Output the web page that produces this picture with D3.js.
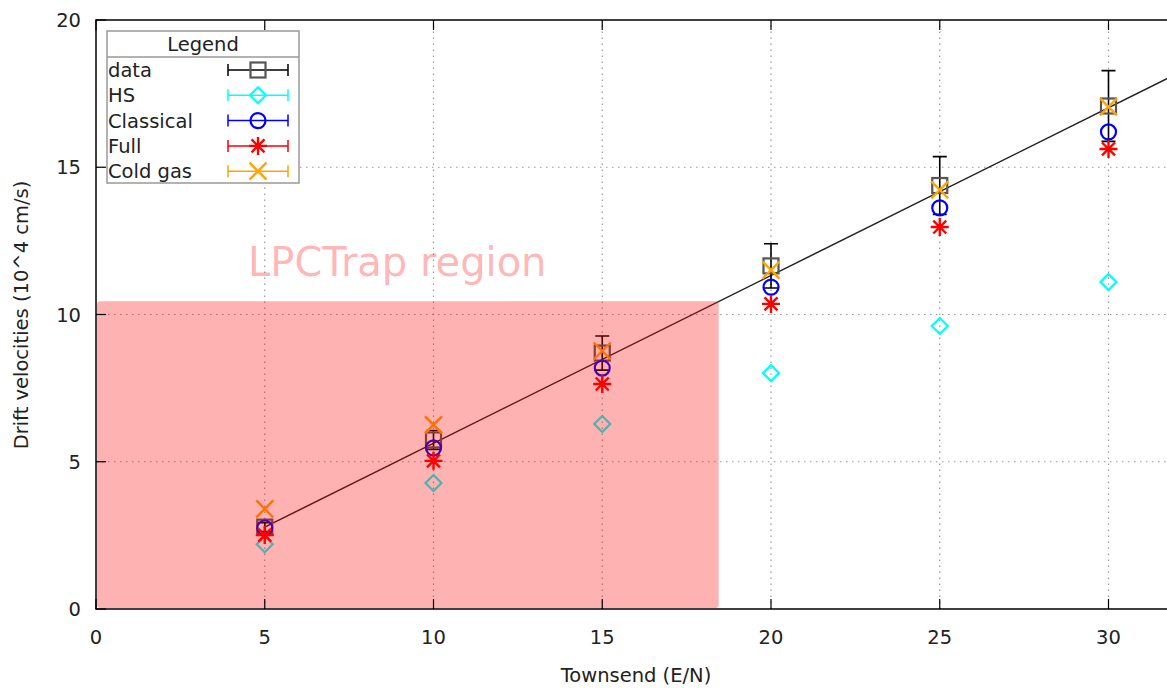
<!DOCTYPE html>
<html><head><meta charset="utf-8">
<script src="https://cdn.jsdelivr.net/npm/d3@7"></script>
<style>body{margin:0;background:#fff}svg{display:block}text{font-family:"DejaVu Sans",sans-serif}</style>
</head><body><svg id="c" width="1167" height="688"></svg>
<script>
const xTicks = [0,5,10,15,20,25,30];
const yTicks = [0,5,10,15,20];
const townsend = [5,10,15,20,25,30];
const dataVals = [2.78,5.74,8.69,11.65,14.38,17.08];
const dataErr  = [0.15,0.32,0.58,0.75,0.98,1.2];
const hsVals   = [2.2,4.28,6.28,8.01,9.61,11.1];
const classicalVals = [2.75,5.47,8.18,10.93,13.62,16.2];
const fullVals = [2.51,5.03,7.64,10.36,12.97,15.62];
const coldVals = [3.4,6.25,8.76,11.51,14.23,17.05];
const fitX = [5,32];
const fitY = [2.78,18.16];
const regionX = [0,18.45];
const regionY = [0,10.45];
const seriesNames = ["data","HS","Classical","Full","Cold gas"];
const seriesColors = ["#555555","#00ffff","#0000ff","#ff0000","#ffa500"];
const seriesShapes = ["square","diamond","circle","star","cross"];

const svg = d3.select("#c");
const L=96, T=20, B=609;
const x = d3.scaleLinear().domain([0,32]).range([L, L+32*33.75]);
const y = d3.scaleLinear().domain([0,20]).range([B, T]);
const FS = 19.5;

// grid
const g = svg.append("g");
xTicks.filter(d=>d>0).forEach(d=>g.append("line").attr("x1",x(d)).attr("x2",x(d)).attr("y1",B).attr("y2",T)
  .attr("stroke","#999").attr("stroke-width",1.2).attr("stroke-dasharray","1.5,4.5"));
yTicks.filter(d=>d>0&&d<20).forEach(d=>g.append("line").attr("x1",L).attr("x2",1167).attr("y1",y(d)).attr("y2",y(d))
  .attr("stroke","#999").attr("stroke-width",1.2).attr("stroke-dasharray","1.5,4.5"));

// fit line
svg.append("path").attr("d", d3.line()(fitX.map((v,i)=>[x(v),y(fitY[i])])))
  .attr("stroke","#222").attr("stroke-width",1.5).attr("fill","none");

function marker(sel, shape, color, cx, cy){
  const s=7.5;
  if(shape==="square") sel.append("rect").attr("x",cx-s).attr("y",cy-s).attr("width",2*s).attr("height",2*s).attr("fill","none").attr("stroke",color).attr("stroke-width",2.2);
  else if(shape==="diamond") sel.append("path").attr("d",`M${cx},${cy-s-0.5}L${cx+s+0.5},${cy}L${cx},${cy+s+0.5}L${cx-s-0.5},${cy}Z`).attr("fill","none").attr("stroke",color).attr("stroke-width",2.2);
  else if(shape==="circle") sel.append("circle").attr("cx",cx).attr("cy",cy).attr("r",s).attr("fill","none").attr("stroke",color).attr("stroke-width",2.2);
  else if(shape==="star"){ const r=9; let d=`M${cx-r},${cy}L${cx+r},${cy}M${cx},${cy-r}L${cx},${cy+r}M${cx-r*0.72},${cy-r*0.72}L${cx+r*0.72},${cy+r*0.72}M${cx-r*0.72},${cy+r*0.72}L${cx+r*0.72},${cy-r*0.72}`;
    sel.append("path").attr("d",d).attr("stroke",color).attr("stroke-width",2.4);}
  else if(shape==="cross"){ const r=8.5; let d=`M${cx-r},${cy-r}L${cx+r},${cy+r}M${cx-r},${cy+r}L${cx+r},${cy-r}`;
    sel.append("path").attr("d",d).attr("stroke",color).attr("stroke-width",2.4);}
}
function errbar(sel,color,cx,y1,y2){
  sel.append("path").attr("d",`M${cx},${y1}L${cx},${y2}M${cx-7},${y1}L${cx+7},${y1}M${cx-7},${y2}L${cx+7},${y2}`).attr("stroke",color).attr("stroke-width",1.6).attr("fill","none");
}
const allVals=[dataVals,hsVals,classicalVals,fullVals,coldVals];
const mg = svg.append("g");
townsend.forEach((t,i)=>errbar(mg,"#000",x(t),y(dataVals[i]+dataErr[i]),y(dataVals[i]-dataErr[i])));
[0,1,2,3,4].forEach(k=>{
  townsend.forEach((t,i)=>marker(mg,seriesShapes[k],seriesColors[k],x(t),y(allVals[k][i])));
});

// region
svg.append("rect").attr("x",x(regionX[0])+1).attr("y",y(regionY[1])).attr("width",x(regionX[1])-x(regionX[0])-1)
  .attr("height",y(regionY[0])-y(regionY[1])-1).attr("rx",3).attr("fill","rgba(255,0,0,0.3)");
svg.append("text").attr("x",248).attr("y",276).attr("font-size",40).attr("fill","rgba(255,0,0,0.3)").text("LPCTrap region");

// axes frame
svg.append("path").attr("d",`M${1167},${T}L${L},${T}L${L},${B}L${1167},${B}`).attr("fill","none").attr("stroke","#000").attr("stroke-width",1.5);
xTicks.forEach(d=>{
  svg.append("line").attr("x1",x(d)).attr("x2",x(d)).attr("y1",B).attr("y2",B-10).attr("stroke","#000").attr("stroke-width",1.2);
  svg.append("line").attr("x1",x(d)).attr("x2",x(d)).attr("y1",T).attr("y2",T+10).attr("stroke","#000").attr("stroke-width",1.2);
  svg.append("text").attr("x",x(d)).attr("y",B+35).attr("text-anchor","middle").attr("font-size",FS).attr("fill","#222").text(d);
});
yTicks.forEach(d=>{
  svg.append("line").attr("x1",L).attr("x2",L+10).attr("y1",y(d)).attr("y2",y(d)).attr("stroke","#000").attr("stroke-width",1.2);
  svg.append("text").attr("x",L-15).attr("y",y(d)+7).attr("text-anchor","end").attr("font-size",FS).attr("fill","#222").text(d);
});
svg.append("text").attr("x",636).attr("y",682).attr("text-anchor","middle").attr("font-size",FS).attr("fill","#222").text("Townsend (E/N)");
svg.append("text").attr("transform","translate(28,315) rotate(-90)").attr("text-anchor","middle").attr("font-size",FS).attr("fill","#222").text("Drift velocities (10^4 cm/s)");

// legend
const lg = svg.append("g");
lg.append("rect").attr("x",107).attr("y",31).attr("width",192).attr("height",152).attr("fill","#fff").attr("stroke","#999").attr("stroke-width",1.5);
lg.append("line").attr("x1",107).attr("x2",299).attr("y1",57).attr("y2",57).attr("stroke","#999").attr("stroke-width",1.5);
lg.append("text").attr("x",203).attr("y",51).attr("text-anchor","middle").attr("font-size",FS).attr("fill","#222").text("Legend");
seriesNames.forEach((n,k)=>{
  const yy = 70 + k*25.3;
  lg.append("text").attr("x",108).attr("y",yy+7).attr("font-size",FS).attr("fill","#222").text(n);
  const c = k===0?"#000":seriesColors[k];
  lg.append("path").attr("d",`M228,${yy}L288,${yy}M228,${yy-6}L228,${yy+6}M288,${yy-6}L288,${yy+6}`).attr("stroke",c).attr("stroke-width",1.5);
  marker(lg,seriesShapes[k],seriesColors[k],258,yy);
});
</script></body></html>
